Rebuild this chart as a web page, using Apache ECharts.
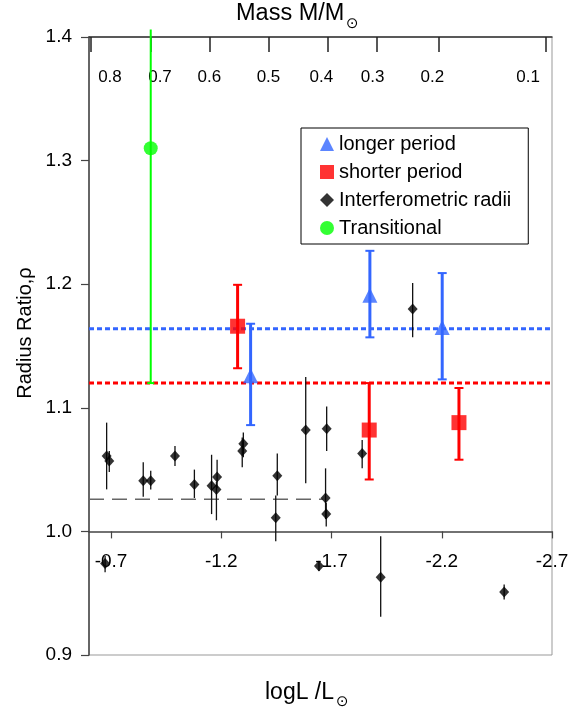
<!DOCTYPE html>
<html>
<head>
<meta charset="utf-8">
<script src="https://cdn.jsdelivr.net/npm/echarts@6/dist/echarts.min.js"></script>
<style>html,body{margin:0;padding:0;background:#fff}#c{width:577px;height:709px}</style>
</head>
<body>
<div id="c"></div>
<script>
// ---------- data ----------
const logLTicks = [-0.7, -1.2, -1.7, -2.2, -2.7];
const rhoTicks = [0.9, 1.0, 1.1, 1.2, 1.3, 1.4];
const massLabels = ['0.8', '0.7', '0.6', '0.5', '0.4', '0.3', '0.2', '0.1'];
const massTickLogL = [-0.609, -0.880, -1.149, -1.416, -1.683, -1.906, -2.187, -2.673];
const massLabelLogL = [-0.695, -0.922, -1.146, -1.414, -1.654, -1.886, -2.157, -2.592];

// longer period (blue triangles): logL, rho, lower, upper
const longLogL = [-1.333, -1.874, -2.202];
const longRho  = [1.126, 1.191, 1.165];
const longLo   = [1.086, 1.157, 1.123];
const longHi   = [1.168, 1.227, 1.209];

// shorter period (red squares)
const shortLogL = [-1.274, -1.871, -2.278];
const shortRho  = [1.166, 1.082, 1.088];
const shortLo   = [1.132, 1.042, 1.058];
const shortHi   = [1.1995, 1.120, 1.116];

// interferometric radii (black diamonds)
const interfLogL = [-0.680, -0.692, -0.846, -0.880, -0.990, -1.078, -1.156, -1.181, -1.178, -1.295, -1.300, -1.447, -1.454, -1.583, -1.678, -1.673, -1.676, -1.839, -2.068, -0.673, -1.643, -1.923, -2.483];
const interfRho  = [1.061, 1.057, 1.041, 1.041, 1.061, 1.038, 1.037, 1.044, 1.034, 1.065, 1.071, 1.011, 1.045, 1.082, 1.083, 1.027, 1.014, 1.063, 1.180, 0.974, 0.972, 0.963, 0.951];
const interfLo   = [1.034, 1.048, 1.028, 1.034, 1.053, 1.027, 1.014, 1.035, 1.009, 1.052, 1.060, 0.992, 1.029, 1.039, 1.065, 1.010, 1.004, 1.051, 1.157, 0.967, 0.968, 0.931, 0.945];
const interfHi   = [1.088, 1.065, 1.056, 1.049, 1.069, 1.050, 1.062, 1.058, 1.040, 1.076, 1.080, 1.029, 1.063, 1.125, 1.101, 1.051, 1.023, 1.074, 1.201, 0.980, 0.976, 0.996, 0.957];

// transitional (green circle)
const transLogL = [-0.880];
const transRho  = [1.310];
const transLo   = [1.120];
const transHi   = [1.406];

// reference lines
const meanLong = 1.164;
const meanShort = 1.120;
const interfLevel = 1.026;
const interfLevelRange = [-0.6, -1.66];

// ---------- helpers ----------
function pts(xs, ys) { return xs.map((x, i) => [x, ys[i]]); }
function errData(xs, ys, lo, hi) { return xs.map((x, i) => [x, ys[i], lo[i], hi[i]]); }
function errSeries(name, data, color, lw, capW, clip, topCap) {
  return {
    type: 'custom', name: name + ' err', data: data, clip: clip, z: 3, silent: true,
    renderItem: function (params, api) {
      const x = api.value(0), lo = api.value(2), hi = api.value(3);
      const a = api.coord([x, lo]), b = api.coord([x, hi]);
      const ch = [{ type: 'line', shape: { x1: a[0], y1: a[1], x2: b[0], y2: b[1] }, style: { stroke: color, lineWidth: lw } }];
      if (capW) {
        ch.push({ type: 'line', shape: { x1: a[0] - capW / 2, y1: a[1], x2: a[0] + capW / 2, y2: a[1] }, style: { stroke: color, lineWidth: 2 } });
        if (topCap) ch.push({ type: 'line', shape: { x1: b[0] - capW / 2, y1: b[1], x2: b[0] + capW / 2, y2: b[1] }, style: { stroke: color, lineWidth: 2 } });
      }
      return { type: 'group', children: ch };
    }
  };
}
function nearestIdx(arr, v) {
  let best = 0;
  arr.forEach((a, i) => { if (Math.abs(a - v) < Math.abs(arr[best] - v)) best = i; });
  return best;
}

const FONT = '"Liberation Sans", Arial, sans-serif';
const BLUE = '#3366FF', RED = '#FF0000', GREEN = '#00FF00';
const chart = echarts.init(document.getElementById('c'));

chart.setOption({
  animation: false,
  backgroundColor: '#fff',
  grid: { left: 89, right: 25, top: 37, bottom: 54, show: true, borderColor: '#999', borderWidth: 1, backgroundColor: 'transparent', outerBoundsMode: 'none' },
  xAxis: [
    {
      type: 'value', min: -2.7, max: -0.6, inverse: true, position: 'bottom', offset: -123.6,
      axisLine: { show: true, lineStyle: { color: '#444', width: 1.5 } },
      axisTick: { show: true, length: 7, customValues: logLTicks, lineStyle: { color: '#444', width: 1.2 } },
      axisLabel: { customValues: logLTicks, margin: 21, fontSize: 19, color: '#000', fontFamily: FONT, formatter: v => v.toFixed(1) },
      splitLine: { show: false }
    },
    {
      type: 'value', min: -2.7, max: -0.6, inverse: true, position: 'top',
      axisLine: { show: true, lineStyle: { color: '#333', width: 1.5 } },
      axisTick: { show: true, inside: true, length: 15, customValues: massTickLogL, lineStyle: { color: '#222', width: 1.5 } },
      axisLabel: { inside: true, customValues: massLabelLogL, margin: 32, fontSize: 17, color: '#000', fontFamily: FONT,
        formatter: v => massLabels[nearestIdx(massLabelLogL, v)] },
      splitLine: { show: false }
    }
  ],
  yAxis: {
    type: 'value', min: 0.9, max: 1.4,
    axisLine: { show: true, lineStyle: { color: '#444', width: 1.5 } },
    axisTick: { show: true, length: 8, customValues: rhoTicks, lineStyle: { color: '#444', width: 1.2 } },
    axisLabel: { customValues: rhoTicks, margin: 17, fontSize: 19, color: '#000', fontFamily: FONT, formatter: v => v.toFixed(1) },
    splitLine: { show: false }
  },
  legend: {
    orient: 'vertical', left: 301, top: 128,
    padding: [6, 17, 6, 19], itemGap: 8, itemWidth: 14, itemHeight: 14,
    borderColor: '#000', borderWidth: 1, backgroundColor: '#fff',
    textStyle: { fontSize: 20, color: '#000', fontFamily: FONT },
    data: [
      { name: 'longer period', icon: 'triangle' },
      { name: 'shorter period', icon: 'rect' },
      { name: 'Interferometric radii', icon: 'diamond' },
      { name: 'Transitional', icon: 'circle' }
    ]
  },
  graphic: [
    { type: 'text', x: 236, y: 14, style: { text: 'Mass M/M', font: '23.5px ' + FONT, fill: '#000', align: 'left', verticalAlign: 'middle' } },
    { type: 'text', x: 346, y: 24, style: { text: '\u2299', font: '15px "DejaVu Sans"', fill: '#000', align: 'left', verticalAlign: 'middle' } },
    { type: 'text', x: 265, y: 693, style: { text: 'logL /L', font: '23px ' + FONT, fill: '#000', align: 'left', verticalAlign: 'middle' } },
    { type: 'text', x: 336, y: 702, style: { text: '\u2299', font: '15px "DejaVu Sans"', fill: '#000', align: 'left', verticalAlign: 'middle' } },
    { type: 'text', x: 25, y: 333, rotation: Math.PI / 2, style: { text: 'Radius Ratio,\u03C1', font: '20px ' + FONT, fill: '#000', align: 'center', verticalAlign: 'middle' } }
  ],
  series: [
    { type: 'line', name: 'mean long', data: [[-0.6, meanLong], [-2.7, meanLong]], showSymbol: false, silent: true, z: 1,
      lineStyle: { color: BLUE, width: 3, type: [5, 3] } },
    { type: 'line', name: 'mean short', data: [[-0.6, meanShort], [-2.7, meanShort]], showSymbol: false, silent: true, z: 1,
      lineStyle: { color: RED, width: 3, type: [5, 3] } },
    { type: 'line', name: 'interf level', data: [[interfLevelRange[0], interfLevel], [interfLevelRange[1], interfLevel]], showSymbol: false, silent: true, z: 1,
      lineStyle: { color: '#666', width: 1.5, type: [15, 8] } },
    errSeries('Transitional', errData(transLogL, transRho, transLo, transHi), GREEN, 2, 7, false, false),
    errSeries('Interferometric radii', errData(interfLogL, interfRho, interfLo, interfHi), '#111', 1.3, 0, true, false),
    errSeries('longer period', errData(longLogL, longRho, longLo, longHi), BLUE, 3, 9, true, true),
    errSeries('shorter period', errData(shortLogL, shortRho, shortLo, shortHi), RED, 3, 9, true, true),
    { type: 'scatter', name: 'Transitional', data: pts(transLogL, transRho), symbol: 'circle', symbolSize: 14, itemStyle: { color: GREEN }, z: 5 },
    { type: 'scatter', name: 'Interferometric radii', data: pts(interfLogL, interfRho), symbol: 'diamond', symbolSize: [10, 11], itemStyle: { color: '#000' }, z: 5 },
    { type: 'scatter', name: 'longer period', data: pts(longLogL, longRho), symbol: 'triangle', symbolSize: 15, itemStyle: { color: BLUE }, z: 5 },
    { type: 'scatter', name: 'shorter period', data: pts(shortLogL, shortRho), symbol: 'rect', symbolSize: 15, itemStyle: { color: RED }, z: 5 }
  ]
});
</script>
</body>
</html>
